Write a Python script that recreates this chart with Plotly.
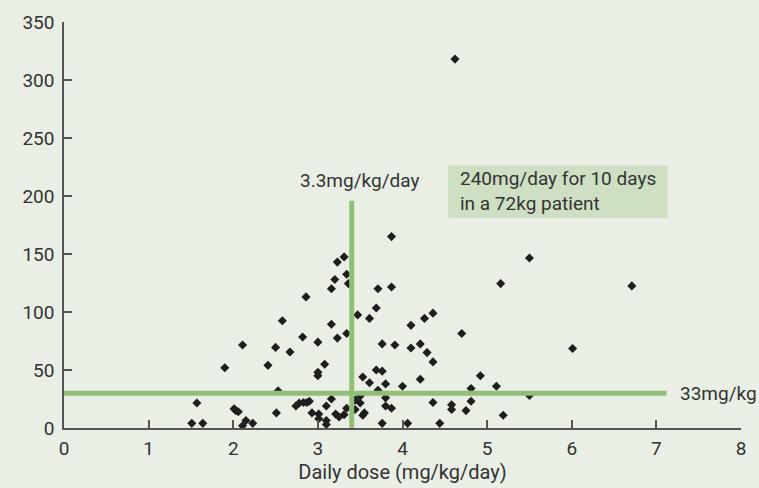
import plotly.graph_objects as go

# Daily dose (mg/kg/day) and corresponding values
dose = [4.62, 3.87, 3.31, 3.23, 3.34, 3.20, 3.36, 3.16, 3.71, 3.87,
        2.86, 3.69, 3.47, 3.61, 2.58, 3.16, 4.10, 4.26, 4.36, 2.82,
        3.23, 3.34, 3.00, 2.11, 2.50, 2.67, 3.76, 3.91, 4.10, 4.21,
        4.29, 4.36, 4.70, 5.16, 5.50, 6.71, 6.01, 1.90, 2.41, 3.08,
        3.00, 3.00, 3.53, 3.69, 3.76, 3.61, 3.80, 4.00, 4.21, 4.92,
        5.11, 4.81, 2.53, 3.71, 3.50, 3.80, 3.16, 3.44, 5.50, 1.57,
        2.74, 2.78, 2.83, 2.87, 2.90, 3.10, 3.50, 3.80, 3.87, 4.36,
        4.58, 4.58, 4.81, 4.75, 5.19, 2.01, 2.03, 2.06, 2.93, 3.01,
        3.01, 3.10, 3.10, 3.21, 3.25, 3.31, 3.34, 3.44, 3.53, 3.55,
        2.51, 1.51, 1.64, 2.15, 2.11, 2.23, 3.76, 4.06, 4.44]
value = [318, 165, 147.5, 143, 132.5, 128, 124.5, 120, 120, 121.5,
         113, 103.5, 97.5, 94.5, 92.5, 89.5, 88.5, 94.5, 99, 78.5,
         77.5, 81.5, 74, 71.5, 69.5, 65.5, 72.5, 71.5, 69, 72.5,
         65, 57, 81.5, 124.5, 146.5, 122.5, 68.5, 52, 54, 55,
         48, 45, 44, 50, 49, 39, 38, 36, 42, 45,
         36, 34, 32, 32.5, 27.5, 26, 25, 24, 28, 21.5,
         19, 21.5, 22, 22, 23, 19, 21.5, 19, 17, 22,
         20, 16, 23, 15, 11, 16.5, 15, 14, 13, 12,
         8, 6.5, 3, 12, 9.5, 11.5, 17, 16, 11, 13,
         13, 4, 4, 6.5, 2, 4, 4, 4, 4]

x_ticks = [0, 1, 2, 3, 4, 5, 6, 7, 8]
y_ticks = [0, 50, 100, 150, 200, 250, 300, 350]

# Reference lines
dose_threshold = 3.4
dose_line_top = 196
level_threshold = 30
level_line_end = 7.12

# Annotation box extents
box_x = [4.54, 7.13]
box_y = [181, 226.4]

BG = "#e9efe4"
GREEN = "#93be77"
BOX = "#cfdfc4"
TXT = "#333333"
AX = "#555555"
FONT = "Roboto"
FS = 19

fig = go.Figure()
fig.add_trace(go.Scatter(
    x=dose, y=value, mode="markers",
    marker=dict(symbol="diamond", size=7, color="#1e1e1e"),
    showlegend=False, cliponaxis=False))

fig.add_shape(type="line", x0=dose_threshold, x1=dose_threshold, y0=0, y1=dose_line_top,
              line=dict(color=GREEN, width=5), layer="above")
fig.add_shape(type="line", x0=0, x1=level_line_end, y0=level_threshold, y1=level_threshold,
              line=dict(color=GREEN, width=5), layer="above")
fig.add_shape(type="rect", x0=box_x[0], x1=box_x[1], y0=box_y[0], y1=box_y[1],
              fillcolor=BOX, line=dict(width=0), layer="below")

fig.add_annotation(x=3.49, y=213.5, text="3.3mg/kg/day", showarrow=False,
                   xanchor="center", yanchor="middle",
                   font=dict(family=FONT, size=FS, color=TXT))
fig.add_annotation(x=4.66, y=204.2, text="240mg/day for 10 days<br>in a 72kg patient",
                   showarrow=False, xanchor="left", yanchor="middle", align="left",
                   font=dict(family=FONT, size=FS, color=TXT))
fig.add_annotation(x=7.26, y=level_threshold, text="33mg/kg", showarrow=False,
                   xanchor="left", yanchor="middle",
                   font=dict(family=FONT, size=FS, color=TXT))

fig.update_layout(
    width=759, height=488,
    margin=dict(l=64, r=18, t=22, b=60),
    paper_bgcolor=BG, plot_bgcolor=BG,
    font=dict(family=FONT, size=FS, color=TXT),
    xaxis=dict(range=[0, 8], tickvals=x_ticks, ticks="inside", ticklen=8,
               tickwidth=1.5, tickcolor=AX, showline=True, linecolor=AX, linewidth=2,
               showgrid=False, zeroline=False, ticklabelstandoff=2, automargin=False,
               title=dict(text="Daily dose (mg/kg/day)", font=dict(size=20, color=TXT),
                          standoff=4)),
    yaxis=dict(range=[0, 350], tickvals=y_ticks, ticks="inside", ticklen=8,
               tickwidth=1.5, tickcolor=AX, showline=True, linecolor=AX, linewidth=1.5,
               showgrid=False, zeroline=False, ticklabelstandoff=4, automargin=False),
)

fig.write_html("out.html", config={"displayModeBar": False},
               post_script="document.body.style.margin='0';document.body.style.background='%s';" % BG)
